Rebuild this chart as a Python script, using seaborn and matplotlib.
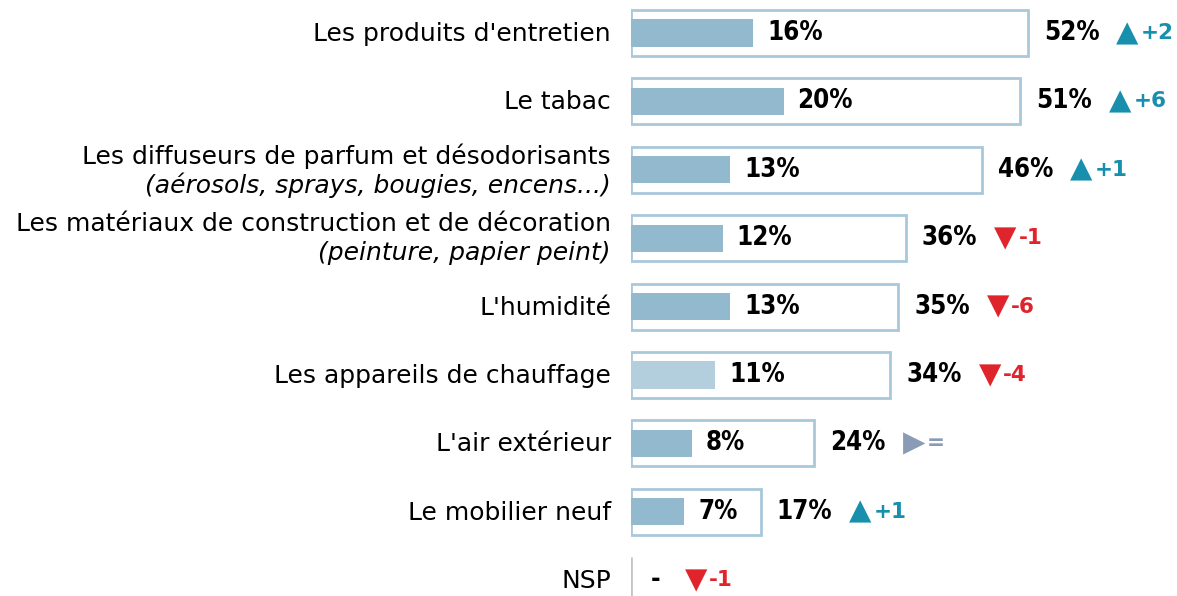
import matplotlib
matplotlib.use("Agg")
import matplotlib.pyplot as plt
import seaborn as sns
import pandas as pd

# Sources of indoor air pollution: first mention vs. total mentions (%), change vs. previous wave
categories = [
    "Les produits d'entretien",
    "Le tabac",
    "Les diffuseurs de parfum et désodorisants",
    "Les matériaux de construction et de décoration",
    "L'humidité",
    "Les appareils de chauffage",
    "L'air extérieur",
    "Le mobilier neuf",
    "NSP",
]
sublabels = ["", "", "(aérosols, sprays, bougies, encens...)", "(peinture, papier peint)",
             "", "", "", "", ""]
total_pct = [52, 51, 46, 36, 35, 34, 24, 17, 0]
first_pct = [16, 20, 13, 12, 13, 11, 8, 7, 0]
total_labels = ["52%", "51%", "46%", "36%", "35%", "34%", "24%", "17%", "-"]
first_labels = ["16%", "20%", "13%", "12%", "13%", "11%", "8%", "7%", ""]
change = ["+2", "+6", "+1", "-1", "-6", "-4", "=", "+1", "-1"]

sns.set_theme(style="white")
plt.rcParams["font.family"] = ["DejaVu Sans"]

W, H, DPI = 1177, 596, 100
fig = plt.figure(figsize=(W / DPI, H / DPI), dpi=DPI)
fig.patch.set_facecolor("white")
x0 = 631
ax = fig.add_axes([x0 / W, 0, 1 - x0 / W, 1])

df = pd.DataFrame({"cat": categories, "total": total_pct, "first": first_pct})

outer_edge = "#a9c8da"
inner_col = "#93b9cf"
inner_light = "#b3cfdd"
inner_palette = [inner_light if c == "Les appareils de chauffage" else inner_col for c in categories]

sns.barplot(data=df, x="total", y="cat", hue="cat", palette=["white"] * len(categories),
            legend=False, width=0.67, edgecolor=outer_edge, linewidth=2, saturation=1,
            ax=ax, zorder=1)
n_outer = len(ax.patches)
sns.barplot(data=df, x="first", y="cat", hue="cat", palette=inner_palette,
            legend=False, width=0.395, linewidth=0, saturation=1, ax=ax, zorder=2)

# the empty "NSP" bar only keeps a grey baseline
for p in ax.patches[:n_outer]:
    if p.get_width() == 0:
        p.set_edgecolor("#c4c4c4")

px_per_pct = 7.63
row0, row_step = 33, 68.4
ax.set_xlim(0, (W - x0) / px_per_pct)
ax.set_ylim((H - row0) / row_step, -row0 / row_step)
ax.axis("off")

col_up, col_down, col_eq = "#1890ad", "#e0242c", "#8a9bb6"
bold = dict(fontsize=18.5, fontweight="bold", fontstretch="condensed", color="black")

for i, cat in enumerate(categories):
    # category labels, right aligned left of the bars
    if sublabels[i]:
        ax.annotate(cat, xy=(0, i), xytext=(-20, 14), textcoords="offset pixels",
                    ha="right", va="center", fontsize=18, color="black")
        ax.annotate(sublabels[i], xy=(0, i), xytext=(-20, -15), textcoords="offset pixels",
                    ha="right", va="center", fontsize=18, style="italic", color="black")
    else:
        ax.annotate(cat, xy=(0, i), xytext=(-20, -1), textcoords="offset pixels",
                    ha="right", va="center", fontsize=18, color="black")

    if first_labels[i]:
        ax.annotate(first_labels[i], xy=(first_pct[i], i), xytext=(14, 0),
                    textcoords="offset pixels", ha="left", va="center", **bold)
    tot = ax.annotate(total_labels[i], xy=(total_pct[i], i), xytext=(16 if total_pct[i] else 20, 0),
                      textcoords="offset pixels", ha="left", va="center", **bold)

    ch = change[i]
    if ch.startswith("+"):
        glyph, col = "▲", col_up
    elif ch.startswith("-"):
        glyph, col = "▼", col_down
    else:
        glyph, col = "▶", col_eq
    gap = 17 if total_pct[i] else 24
    tri = ax.annotate(glyph, xy=(1, 0.5), xycoords=tot, xytext=(gap, 0),
                      textcoords="offset pixels", ha="left", va="center",
                      fontsize=21, color=col)
    ax.annotate(ch, xy=(1, 0.5), xycoords=tri, xytext=(2, 0),
                textcoords="offset pixels", ha="left", va="center",
                fontsize=15.5, fontweight="bold", color=col)

fig.savefig("out.png", dpi=DPI, facecolor="white")
